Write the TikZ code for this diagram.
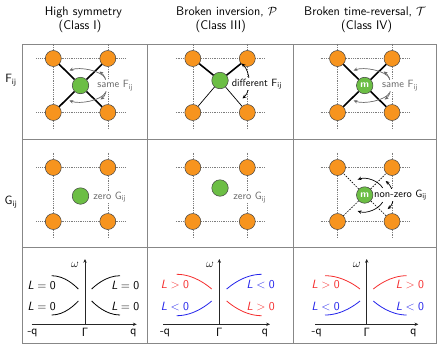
\documentclass[tikz,border=0pt]{standalone}
\usetikzlibrary{arrows.meta}
\definecolor{orng}{RGB}{247,148,30}
\definecolor{grn}{RGB}{108,190,69}
\definecolor{tline}{RGB}{135,135,135}
\definecolor{dotc}{RGB}{125,125,125}
\definecolor{myred}{RGB}{245,45,45}
\definecolor{myblue}{RGB}{35,35,235}
\definecolor{lbl}{RGB}{105,105,105}
\tikzset{
  tbl/.style={draw=tline, line width=0.7pt},
  latgrid/.style={draw=dotc, line width=0.6pt, dash pattern=on 0.7pt off 1.1pt},
  orb/.style={circle, draw=black!75, line width=0.5pt, fill=orng, minimum size=16pt, inner sep=0pt},
  gorb/.style={circle, draw=black!75, line width=0.5pt, fill=grn, minimum size=16.5pt, inner sep=0pt, text=white, font=\sffamily\bfseries\fontsize{10}{10}\selectfont},
  bondthick/.style={line width=1.6pt},
  bondthin/.style={line width=0.7pt},
  bonddash/.style={line width=0.6pt, dash pattern=on 1.6pt off 1.2pt},
  >={Stealth[length=3.8pt,width=3.4pt]},
  arcgray/.style={draw=lbl, line width=0.7pt},
  arcblack/.style={draw=black, line width=0.7pt},
  clbl/.style={anchor=west, fill=white, inner sep=0.6pt, font=\sffamily\fontsize{10.5}{12}\selectfont},
  head/.style={font=\sffamily\fontsize{12.5}{15}\selectfont, inner sep=0pt},
  rowlbl/.style={font=\sffamily\fontsize{12}{14}\selectfont, inner sep=0pt},
  axis/.style={draw=black!85, line width=0.8pt},
  curve/.style={line width=0.8pt},
  plbl/.style={font=\sffamily\fontsize{12}{14}\selectfont, inner sep=0pt},
}
\newcommand{\latt}[3]{%
  \draw[latgrid] ({#2-17},#3) -- ({#2+71.5},#3);
  \draw[latgrid] ({#2-17},{#3+54}) -- ({#2+71.5},{#3+54});
  \draw[latgrid] (#2,{#3-15}) -- (#2,{#3+71});
  \draw[latgrid] ({#2+54.5},{#3-15}) -- ({#2+54.5},{#3+71});
  \node[orb] (#1tl) at (#2,#3) {};
  \node[orb] (#1tr) at ({#2+54.5},#3) {};
  \node[orb] (#1bl) at (#2,{#3+54}) {};
  \node[orb] (#1br) at ({#2+54.5},{#3+54}) {};
}
\newcommand{\samearcs}[1]{%
  \draw[#1,->] (25,-7) .. controls +(-4,-8) and +(10,-4) .. (-11,-15);
  \draw[#1,->] (25,7) .. controls +(-4,8) and +(10,4) .. (-11,15);
  \draw[#1,<->] (19,-14) .. controls +(8,6) and +(8,-6) .. (20,14);
}
\newcommand{\Lrel}[2]{{\itshape L}${}#1{}$#2}
\begin{document}
\begin{tikzpicture}[x=1pt, y=-1pt, font=\sffamily]
\useasboundingbox (0,0) rectangle (443,346);

% table
\draw[tbl] (22,44) rectangle (436,343);
\draw[tbl] (147,44) -- (147,343);
\draw[tbl] (293,44) -- (293,343);
\draw[tbl] (22,139) -- (436,139);
\draw[tbl] (22,247.5) -- (436,247.5);

% headers
\node[head] (h1a) at (83.5,12.3) {High symmetry};
\node[head] (h1b) at (80,26.7) {(Class I)};
\node[head] (h2a) at (226.7,12.3) {Broken inversion, $\mathcal{P}$};
\node[head] (h2b) at (220.8,26.7) {(Class III)};
\node[head] (h3a) at (365,12.3) {Broken time-reversal, $\mathcal{T}$};
\node[head] (h3b) at (366.7,26.7) {(Class IV)};

% row labels
\node[rowlbl] (rf) at (11,80) {F\textsubscript{ij}};
\node[rowlbl] (rg) at (11,202) {G\textsubscript{ij}};

% ---------- row 1 ----------
\latt{p11}{53.3}{58.5}
\latt{p12}{192.8}{58.5}
\latt{p13}{337.5}{58.5}

\node[gorb] (g11) at (80.5,85.5) {};
\node[gorb] (g12) at (220,80.5) {};
\node[gorb] (g13) at (364.7,85.5) {m};

\draw[bondthick] (g11) -- (p11tl); \draw[bondthick] (g11) -- (p11tr);
\draw[bondthick] (g11) -- (p11bl); \draw[bondthick] (g11) -- (p11br);

\draw[bondthick] (g12) -- (p12tl); \draw[bondthick] (g12) -- (p12tr);
\draw[bondthin] (g12) -- (p12bl); \draw[bondthin] (g12) -- (p12br);

\draw[bondthick] (g13) -- (p13tl); \draw[bondthick] (g13) -- (p13tr);
\draw[bondthick] (g13) -- (p13bl); \draw[bondthick] (g13) -- (p13br);

\begin{scope}[shift={(g11)}] \samearcs{arcgray} \end{scope}
\begin{scope}[shift={(g13)}] \samearcs{arcgray} \end{scope}
\begin{scope}[shift={(g12)}]
  \draw[arcblack,<->] (21.5,-17) .. controls +(9,8) and +(9,-8) .. (22.5,18);
\end{scope}

\node[clbl, text=lbl] (t11) at (96.5,85.5) {same F\textsubscript{ij}};
\node[clbl] (t12) at (231,84) {different F\textsubscript{ij}};
\node[clbl, text=lbl] (t13) at (381.2,85.5) {same F\textsubscript{ij}};

% ---------- row 2 ----------
\latt{p21}{53.3}{167.5}
\latt{p22}{192.8}{167.5}
\latt{p23}{337.5}{167.5}

\node[gorb] (g21) at (80.5,196) {};
\node[gorb] (g22) at (220,188) {};
\node[gorb] (g23) at (364.7,195) {m};

\draw[bonddash] (g23) -- (p23tl); \draw[bonddash] (g23) -- (p23tr);
\draw[bonddash] (g23) -- (p23bl); \draw[bonddash] (g23) -- (p23br);

\begin{scope}[shift={(g23)}]
  \draw[arcblack,->] (18,-7) .. controls +(-4,-7) and +(9,-3) .. (-7,-15.5);
  \draw[arcblack,->] (18,7) .. controls +(-4,7) and +(9,3) .. (-7,16);
  \draw[arcblack,<->] (21,-14) .. controls +(8,7) and +(8,-7) .. (23,14);
\end{scope}

\node[clbl, text=lbl] (t21) at (92.5,197) {zero G\textsubscript{ij}};
\node[clbl, text=lbl] (t22) at (232.5,197.5) {zero G\textsubscript{ij}};
\node[clbl] (t23) at (373.4,195) {non-zero G\textsubscript{ij}};

% ---------- row 3 ----------
% column 1
\coordinate (o1) at (85,324.3);
\coordinate (xl1) at (31.7,324.3);
\coordinate (xr1) at (136.7,324.3);
\coordinate (yt1) at (85,259);
\draw[axis,->] (xl1) -- (xr1);
\draw[axis,->] (o1) -- (yt1);
\draw[curve] (51.7,275.7) parabola (78.3,289);
\draw[curve] (51.7,315) parabola (78.3,301);
\draw[curve] (120,275.7) parabola (91.7,289);
\draw[curve] (120,315) parabola (91.7,301);
\node[plbl] (w1) at (75,265) {$\omega$};
\node[plbl] (mq1) at (32.5,332.5) {-q};
\node[plbl] (G1) at (85,332.5) {$\mathsf{\Gamma}$};
\node[plbl] (q1) at (133.3,332.5) {q};
\node[plbl] (l1a) at (41.7,285) {\Lrel{=}{0}};
\node[plbl] (l1b) at (41.7,306.7) {\Lrel{=}{0}};
\node[plbl] (l1c) at (125.3,285) {\Lrel{=}{0}};
\node[plbl] (l1d) at (125.3,306.7) {\Lrel{=}{0}};

% column 2
\coordinate (o2) at (219.3,324.3);
\coordinate (xl2) at (163.3,324.3);
\coordinate (xr2) at (270,324.3);
\coordinate (yt2) at (219.3,259);
\draw[axis,->] (xl2) -- (xr2);
\draw[axis,->] (o2) -- (yt2);
\draw[curve, myred] (176.7,274.3) parabola (211.7,289);
\draw[curve, myblue] (176.7,315.7) parabola (211.7,301);
\draw[curve, myblue] (261.7,274.3) parabola (226.7,289);
\draw[curve, myred] (261.7,315.7) parabola (226.7,301);
\node[plbl] (w2) at (210,265) {$\omega$};
\node[plbl] (mq2) at (165,332.5) {-q};
\node[plbl] (G2) at (219.3,332.5) {$\mathsf{\Gamma}$};
\node[plbl] (q2) at (265,332.5) {q};
\node[plbl, text=myred] (l2a) at (175,284.3) {\Lrel{>}{0}};
\node[plbl, text=myblue] (l2b) at (175,306.7) {\Lrel{<}{0}};
\node[plbl, text=myblue] (l2c) at (260.7,284.3) {\Lrel{<}{0}};
\node[plbl, text=myred] (l2d) at (260.7,306.7) {\Lrel{>}{0}};

% column 3
\coordinate (o3) at (366.7,324.3);
\coordinate (xl3) at (315,324.3);
\coordinate (xr3) at (418.3,324.3);
\coordinate (yt3) at (366.7,259);
\draw[axis,->] (xl3) -- (xr3);
\draw[axis,->] (o3) -- (yt3);
\draw[curve, myred] (325,275.7) parabola (360,289);
\draw[curve, myblue] (325,315) parabola (360,301);
\draw[curve, myred] (406.7,275.7) parabola (373.3,289);
\draw[curve, myblue] (406.7,315) parabola (373.3,301);
\node[plbl] (w3) at (356.7,265) {$\omega$};
\node[plbl] (mq3) at (316.7,332.5) {-q};
\node[plbl] (G3) at (366.7,332.5) {$\mathsf{\Gamma}$};
\node[plbl] (q3) at (413.3,332.5) {q};
\node[plbl, text=myred] (l3a) at (325.7,284.3) {\Lrel{>}{0}};
\node[plbl, text=myblue] (l3b) at (325.7,306.7) {\Lrel{<}{0}};
\node[plbl, text=myred] (l3c) at (410,284.3) {\Lrel{>}{0}};
\node[plbl, text=myblue] (l3d) at (410,306.7) {\Lrel{<}{0}};
\end{tikzpicture}
\end{document}
